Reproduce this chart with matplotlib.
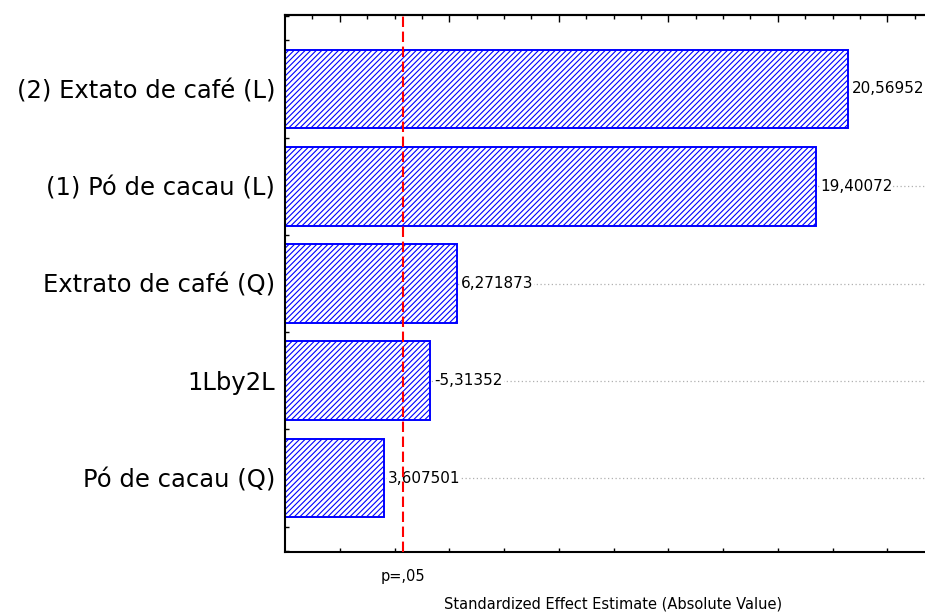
import numpy as np
import matplotlib
matplotlib.use('Agg')
import matplotlib.pyplot as plt
from matplotlib.ticker import FixedLocator, MultipleLocator, NullFormatter

# effects, listed top to bottom as in the chart
labels = ['(2) Extato de café (L)', '(1) Pó de cacau (L)', 'Extrato de café (Q)',
          '1Lby2L', 'Pó de cacau (Q)']
effects = [20.56952, 19.40072, 6.271873, -5.31352, 3.607501]
value_text = ['20,56952', '19,40072', '6,271873', '-5,31352', '3,607501']
p_value = 4.303
p_label = 'p=,05'

plt.rcParams['font.family'] = ['DejaVu Sans']
plt.rcParams['hatch.linewidth'] = 0.8

fig = plt.figure(figsize=(9.25, 6.15), dpi=100)
ax = fig.add_axes([285 / 925, 1 - 552 / 615, 684.5 / 925, 537 / 615])

n = len(labels)
ypos = np.arange(n)[::-1]
absvals = np.abs(effects)

for y in ypos:
    ax.axhline(y, color='#b0b0b0', lw=0.9, ls=(0, (1, 2)), zorder=0)

ax.barh(ypos, absvals, height=0.81, color='white', edgecolor='#0000ff',
        hatch='//////', linewidth=1.4, zorder=2)

for y, v, t in zip(ypos, absvals, value_text):
    ax.text(v + 0.15, y, t, va='center', ha='left', fontsize=11,
            bbox=dict(facecolor='white', edgecolor='none', pad=0.5), zorder=3)

ax.axvline(p_value, color='#ff0000', lw=1.5, dashes=(5, 2.2), zorder=4)

ax.set_xlim(0, 25)
ax.set_ylim(-0.76, n - 1 + 0.76)

ax.set_yticks(ypos)
ax.set_yticklabels(labels, fontsize=17.5)
ax.yaxis.set_minor_locator(MultipleLocator(0.25))
ax.tick_params(axis='y', which='major', length=0, pad=7)
ax.tick_params(axis='y', which='minor', direction='in', length=3, width=1)

ax.set_xticks([p_value])
ax.set_xticklabels([p_label], fontsize=10.5)
ax.xaxis.set_minor_locator(FixedLocator(np.arange(2, 25, 2)))
ax.tick_params(axis='x', which='major', length=0, pad=12)
ax.tick_params(axis='x', which='minor', direction='in', length=3, width=1)

top = ax.secondary_xaxis('top')
top.xaxis.set_major_locator(FixedLocator(np.arange(2, 25, 4)))
top.xaxis.set_minor_locator(FixedLocator(np.arange(1, 25, 1)))
top.xaxis.set_major_formatter(NullFormatter())
top.tick_params(which='major', direction='in', length=5, width=1)
top.tick_params(which='minor', direction='in', length=3, width=1)
top.spines['top'].set_linewidth(1.5)

for s in ax.spines.values():
    s.set_linewidth(1.5)

fig.text(613 / 925, 1 - 604 / 615, 'Standardized Effect Estimate (Absolute Value)',
         ha='center', va='center', fontsize=10.5)

fig.savefig('out.png', dpi=100)
